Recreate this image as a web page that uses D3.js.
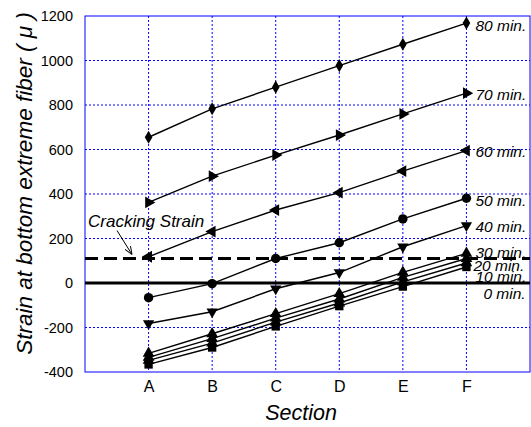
<!DOCTYPE html>
<html>
<head>
<meta charset="utf-8">
<script src="https://cdn.jsdelivr.net/npm/d3@7"></script>
<style>
  body { margin: 0; background: #fff; }
  text { font-family: "Liberation Sans", Arial, sans-serif; }
</style>
</head>
<body>
<div id="chart-area"></div>
<script>
// section categories
const sections = ["A", "B", "C", "D", "E", "F"];
const yTicks = [-400, -200, 0, 200, 400, 600, 800, 1000, 1200];

// strain readings per time step
const s80 = [655, 783, 880, 977, 1073, 1168];
const s70 = [362, 480, 575, 665, 760, 853];
const s60 = [118, 231, 328, 406, 503, 595];
const s50 = [-66, -3, 110, 181, 288, 381];
const s40 = [-182, -129, -26, 47, 163, 258];
const s30 = [-316, -228, -138, -48, 48, 133];
const s20 = [-334, -250, -158, -72, 25, 110];
const s10 = [-348, -270, -176, -90, 5, 90];
const s0 = [-366, -290, -195, -104, -16, 72];

const seriesNames = ["80 min.", "70 min.", "60 min.", "50 min.", "40 min.", "30 min.", "20 min.", "10 min.", "0 min."];
const seriesValues = [s80, s70, s60, s50, s40, s30, s20, s10, s0];
// where each label sits, in strain units
const labelAt = [1155, 849, 590, 370, 252, 135, 77, 29, -47];

const crackingStrain = 110;

const margin = {top: 16, right: 1, bottom: 55, left: 85};
const W = 531, H = 427;
const width = W - margin.left - margin.right;
const height = H - margin.top - margin.bottom;

const svg = d3.select('#chart-area')
  .append('svg')
  .attr('width', W)
  .attr('height', H);

const g = svg.append('g')
  .attr('transform', `translate(${margin.left},${margin.top})`);

const x = d3.scalePoint().domain(sections).range([0, width]).padding(1);
const y = d3.scaleLinear().domain([-400, 1200]).range([height, 0]);

// grid
g.selectAll('.hgrid').data(yTicks.slice(1, -1)).enter()
  .append('line')
  .attr('x1', 0).attr('x2', width)
  .attr('y1', d => y(d)).attr('y2', d => y(d))
  .attr('stroke', '#0000ff').attr('stroke-width', 1)
  .attr('stroke-dasharray', '2,2');
g.selectAll('.vgrid').data(sections).enter()
  .append('line')
  .attr('x1', d => x(d)).attr('x2', d => x(d))
  .attr('y1', 0).attr('y2', height)
  .attr('stroke', '#0000ff').attr('stroke-width', 1)
  .attr('stroke-dasharray', '2,2');

g.append('rect')
  .attr('width', width).attr('height', height)
  .attr('fill', 'none').attr('stroke', '#0000ff').attr('stroke-width', 1);

// axes labels
const yAxis = g.append('g')
  .call(d3.axisLeft(y).tickValues(yTicks).tickFormat(d => String(d)).tickSize(0).tickPadding(12));
yAxis.select('.domain').remove();
yAxis.selectAll('text').attr('font-size', 14.5).attr('fill', '#000');

const xAxis = g.append('g').attr('transform', `translate(0,${height})`)
  .call(d3.axisBottom(x).tickSize(0).tickPadding(9));
xAxis.select('.domain').remove();
xAxis.selectAll('text').attr('font-size', 16).attr('fill', '#000');

// zero & cracking lines
g.append('line')
  .attr('x1', 0).attr('x2', width)
  .attr('y1', y(0)).attr('y2', y(0))
  .attr('stroke', '#000').attr('stroke-width', 3);
g.append('line')
  .attr('x1', 0).attr('x2', width)
  .attr('y1', y(crackingStrain)).attr('y2', y(crackingStrain))
  .attr('stroke', '#000').attr('stroke-width', 3)
  .attr('stroke-dasharray', '13,6');

// series
const line = d3.line().x((d, i) => x(sections[i])).y(d => y(d));
const symbols = [
  {t: d3.symbolDiamond, r: 0, s: 50},
  {t: d3.symbolTriangle, r: -30, s: 60},
  {t: d3.symbolTriangle, r: 30, s: 60},
  {t: d3.symbolCircle, r: 0, s: 70},
  {t: d3.symbolTriangle, r: 180, s: 55},
  {t: d3.symbolTriangle, r: 0, s: 60},
  {t: d3.symbolTriangle, r: 0, s: 60},
  {t: d3.symbolTriangle, r: 0, s: 60},
  {t: d3.symbolSquare, r: 0, s: 70}
];

seriesValues.forEach((vals, k) => {
  g.append('path')
    .datum(vals)
    .attr('d', line)
    .attr('fill', 'none')
    .attr('stroke', '#000')
    .attr('stroke-width', 1.4);
  const sym = symbols[k];
  g.selectAll('.m' + k).data(vals).enter()
    .append('path')
    .attr('d', d3.symbol().type(sym.t).size(sym.s))
    .attr('transform', (d, i) => `translate(${x(sections[i])},${y(d)}) rotate(${sym.r})`)
    .attr('fill', '#000');
});

// series labels
g.selectAll('.lbl').data(seriesNames).enter()
  .append('text')
  .attr('x', (d, i) => x('F') + (i === 8 ? 17 : (i === 6 ? 7 : 9)))
  .attr('y', (d, i) => y(labelAt[i]))
  .attr('dy', '0.35em')
  .attr('font-size', 15.5)
  .attr('font-style', 'italic')
  .text(d => d);

// cracking strain annotation
g.append('text')
  .attr('x', 3).attr('y', y(crackingStrain) - 32)
  .attr('font-size', 17)
  .attr('font-style', 'italic')
  .text('Cracking Strain');
svg.append('defs').append('marker')
  .attr('id', 'arr').attr('viewBox', '0 0 10 10')
  .attr('refX', 10).attr('refY', 5)
  .attr('markerWidth', 8).attr('markerHeight', 8)
  .attr('orient', 'auto')
  .append('path').attr('d', 'M0,1 L10,5 L0,9').attr('fill', 'none').attr('stroke', '#000').attr('stroke-width', 1.2);
g.append('line')
  .attr('x1', 32).attr('y1', y(crackingStrain) - 28)
  .attr('x2', 47).attr('y2', y(crackingStrain) - 4)
  .attr('stroke', '#000').attr('stroke-width', 1)
  .attr('marker-end', 'url(#arr)');

// titles
svg.append('text')
  .attr('transform', `translate(32,183.5) rotate(-90)`)
  .attr('text-anchor', 'middle')
  .attr('font-size', 22.5)
  .attr('font-style', 'italic')
  .text('Strain at bottom extreme fiber ( \u03BC )');

svg.append('text')
  .attr('x', 301)
  .attr('y', 420)
  .attr('text-anchor', 'middle')
  .attr('font-size', 21.5)
  .attr('font-style', 'italic')
  .text('Section');
</script>
</body>
</html>
